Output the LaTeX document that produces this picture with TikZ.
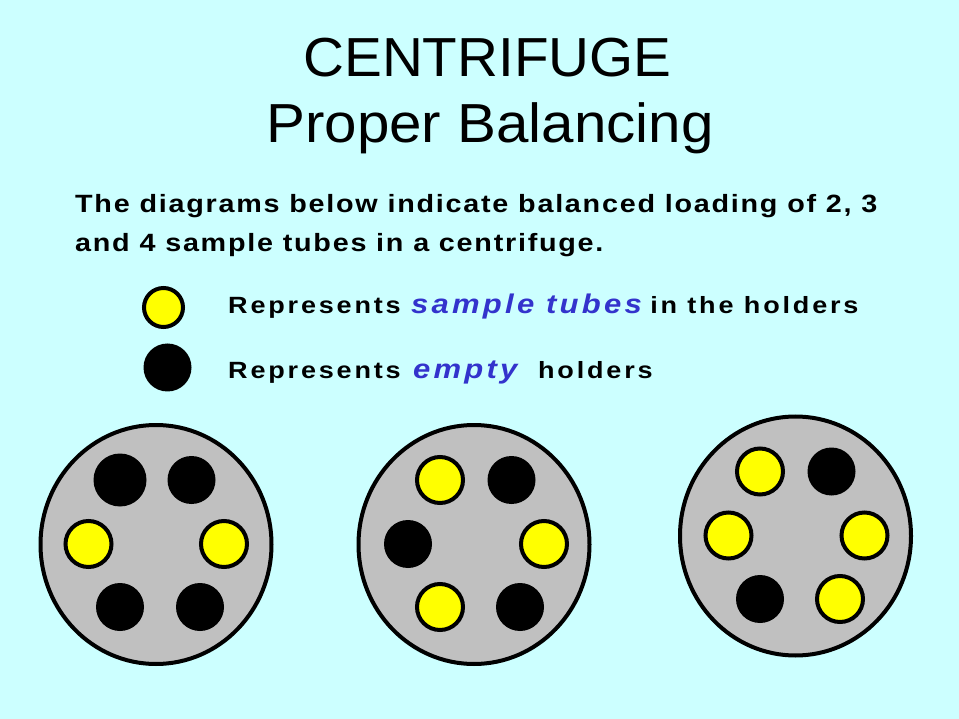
\documentclass[tikz,border=0pt]{standalone}
\usepackage{fontspec}
\setmainfont{Liberation Sans}
\newfontfamily\headfont[FakeStretch=1.03]{Liberation Sans}
\newfontfamily\bodyfont[FakeStretch=1.15, LetterSpace=7]{Liberation Sans}
\newfontfamily\legendfont[FakeStretch=1.15, LetterSpace=12]{Liberation Sans}
\newfontfamily\wordfont[FakeStretch=1.15, LetterSpace=12]{Liberation Sans}
\usetikzlibrary{shapes.geometric}
\definecolor{bgcyan}{RGB}{204,255,255}
\definecolor{rotorgray}{RGB}{192,192,192}
\definecolor{tubeyellow}{RGB}{255,255,0}
\definecolor{wordblue}{RGB}{51,51,204}
\newcommand{\blueword}[1]{{\wordfont\fontsize{27}{30}\selectfont\bfseries\itshape\color{wordblue}#1}}
\tikzset{
x=1pt, y=-1pt, % one unit is one pixel of the slide, y runs downwards
rotor/.style={ellipse, draw, fill=rotorgray, line width=4pt, inner sep=0pt, minimum width=231pt, minimum height=239pt}, % the centrifuge head
sampletube/.style={circle, draw, fill=tubeyellow, line width=4pt, inner sep=0pt, minimum size=46pt}, % holder with a tube in it
emptyholder/.style={circle, fill=black, inner sep=0pt, minimum size=48pt}, % holder left empty
titleline/.style={anchor=base, inner sep=0pt, font=\headfont\fontsize{55}{60}\selectfont},
bodyline/.style={anchor=base west, inner sep=0pt, font=\bodyfont\fontsize{25}{30}\selectfont\bfseries},
legendline/.style={anchor=base west, inner sep=0pt, font=\legendfont\fontsize{23.5}{28}\selectfont\bfseries},
}

\begin{document}
\begin{tikzpicture}
        \fill[bgcyan] (0,0) rectangle (959,719);
        \useasboundingbox (0,0) rectangle (959,719);

        % heading
        \node[titleline] (title) at (487.5,77) {CENTRIFUGE};
        \node[titleline, font=\headfont\addfontfeature{FakeStretch=1.06}\fontsize{55}{60}\selectfont] (subtitle) at (490,143) {Proper Balancing};
        \node[bodyline] (intro1) at (75,213) {The diagrams below indicate balanced loading of 2, 3};
        \node[bodyline] (intro2) at (75,252) {and 4 sample tubes in a centrifuge.};

        % legend
        \node[sampletube, minimum size=39pt] (keytube) at (163.5,307.5) {};
        \node[emptyholder] (keyempty) at (167.5,367.5) {};
        \node[legendline] (keytubetext) at (228,313.5) {Represents \blueword{sample tubes}\hspace{-2pt} in the holders};
        \node[legendline] (keyemptytext) at (228,378.5) {Represents \hspace{2pt}\blueword{empty}\ \ holders};

        % two tubes
        \node[rotor] (rotorA) at (156,544.5) {};
        \node[emptyholder, minimum size=53pt] (a1) at (120,480) {};
        \node[emptyholder] (a2) at (191.5,480) {};
        \node[sampletube] (a3) at (88.5,544) {};
        \node[sampletube] (a4) at (224,544) {};
        \node[emptyholder] (a5) at (120,607) {};
        \node[emptyholder] (a6) at (200,607) {};

        % three tubes
        \node[rotor] (rotorB) at (474,544.5) {};
        \node[sampletube] (b1) at (440,480) {};
        \node[emptyholder] (b2) at (511.5,480) {};
        \node[emptyholder] (b3) at (408,544) {};
        \node[sampletube] (b4) at (544,544) {};
        \node[sampletube] (b5) at (440,607) {};
        \node[emptyholder] (b6) at (520,607) {};

        % four tubes
        \node[rotor] (rotorC) at (795.5,536) {};
        \node[sampletube] (c1) at (760,471.5) {};
        \node[emptyholder] (c2) at (831.5,471.5) {};
        \node[sampletube] (c3) at (728.5,535.5) {};
        \node[sampletube] (c4) at (864.5,535.5) {};
        \node[emptyholder] (c5) at (760,599) {};
        \node[sampletube] (c6) at (840,599) {};
\end{tikzpicture}
\end{document}
